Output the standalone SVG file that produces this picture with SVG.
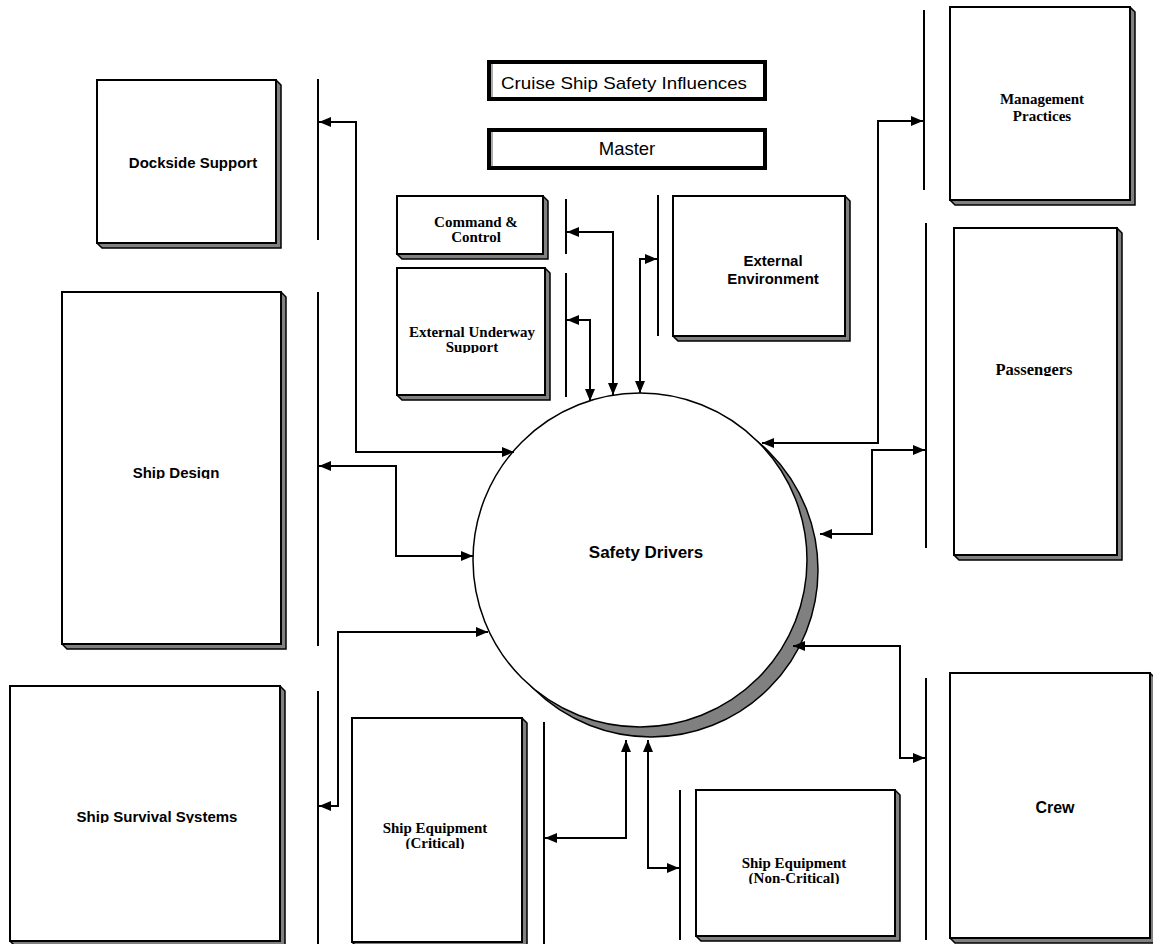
<svg xmlns="http://www.w3.org/2000/svg" width="1153" height="944" viewBox="0 0 1153 944">
<style>
.box{fill:#fff;stroke:#000;stroke-width:2}
.sh{fill:#808080;stroke:#000;stroke-width:1.5}
.bar{stroke:#000;stroke-width:2;fill:none}
.conn{fill:none;stroke:#000;stroke-width:2;marker-start:url(#ah);marker-end:url(#ah)}
.title{fill:#fff;stroke:#000;stroke-width:4}
.sans{font-family:"Liberation Sans",Arial,sans-serif;font-weight:bold;font-size:15px;text-anchor:middle;fill:#000}
.serif{font-family:"Liberation Serif","Times New Roman",serif;font-weight:bold;font-size:15px;text-anchor:middle;fill:#000}
.reg{font-family:"Liberation Sans",Arial,sans-serif;font-size:17px;text-anchor:middle;fill:#000}
</style>
<defs>
<marker id="ah" viewBox="0 0 12 10" refX="12" refY="5" markerWidth="12" markerHeight="10" markerUnits="userSpaceOnUse" orient="auto-start-reverse">
<path d="M0,0 L12,5 L0,10 Z" fill="#000"/>
</marker>
<clipPath id="cSD"><rect x="0" y="0" width="1153" height="479"/></clipPath>
<clipPath id="cSS"><rect x="0" y="0" width="1153" height="823"/></clipPath>
<clipPath id="cEU"><rect x="0" y="0" width="1153" height="353"/></clipPath>
<clipPath id="cPA"><rect x="0" y="0" width="1153" height="376"/></clipPath>
<clipPath id="cSC"><rect x="0" y="0" width="1153" height="849"/></clipPath>
<clipPath id="cSN"><rect x="0" y="0" width="1153" height="884"/></clipPath>
</defs>
<rect width="1153" height="944" fill="#fff"/>

<g id="title">
<rect class="title" x="489" y="62" width="276" height="37"/>
<line x1="492" y1="64" x2="492" y2="97" stroke="#909090" stroke-width="1.5"/>
<text class="reg" x="624" y="89" textLength="246" lengthAdjust="spacingAndGlyphs">Cruise Ship Safety Influences</text>
</g>
<g id="master">
<rect class="title" x="489" y="130" width="276" height="38"/>
<line x1="492" y1="132" x2="492" y2="166" stroke="#909090" stroke-width="1.5"/>
<text class="reg" x="627" y="155" style="font-size:18.5px">Master</text>
</g>

<g id="dockside">
<polygon class="sh" points="276,80 281,85 281,248 102,248 97,243"/>
<rect class="box" x="97" y="80" width="179" height="163"/>
<text class="sans" x="193" y="168">Dockside Support</text>
</g>
<g id="shipdesign">
<polygon class="sh" points="281,292 286,297 286,649 67,649 62,644"/>
<rect class="box" x="62" y="292" width="219" height="352"/>
<text class="sans" x="176" y="478" clip-path="url(#cSD)">Ship Design</text>
</g>
<g id="survival">
<polygon class="sh" points="280,686 285,691 285,946 15,946 10,941"/>
<rect class="box" x="10" y="686" width="270" height="255"/>
<text class="sans" x="157" y="822" clip-path="url(#cSS)">Ship Survival Systems</text>
</g>
<g id="command">
<polygon class="sh" points="543,196 548,201 548,259 402,259 397,254"/>
<rect class="box" x="397" y="196" width="146" height="58"/>
<text class="serif" x="476" y="227">Command &amp;</text>
<text class="serif" x="476" y="242">Control</text>
</g>
<g id="underway">
<polygon class="sh" points="545,268 550,273 550,400 402,400 397,395"/>
<rect class="box" x="397" y="268" width="148" height="127"/>
<g clip-path="url(#cEU)">
<text class="serif" x="472" y="337">External Underway</text>
<text class="serif" x="472" y="352">Support</text>
</g>
</g>
<g id="environment">
<polygon class="sh" points="845,196 850,201 850,341 678,341 673,336"/>
<rect class="box" x="673" y="196" width="172" height="140"/>
<text class="sans" x="773" y="266">External</text>
<text class="sans" x="773" y="284">Environment</text>
</g>
<g id="management">
<polygon class="sh" points="1130,7 1135,12 1135,205 955,205 950,200"/>
<rect class="box" x="950" y="7" width="180" height="193"/>
<text class="serif" x="1042" y="104">Management</text>
<text class="serif" x="1042" y="121">Practices</text>
</g>
<g id="passengers">
<polygon class="sh" points="1117,228 1122,233 1122,560 959,560 954,555"/>
<rect class="box" x="954" y="228" width="163" height="327"/>
<text class="serif" x="1034" y="375" clip-path="url(#cPA)" style="font-size:16.5px">Passengers</text>
</g>
<g id="crew">
<polygon class="sh" points="1150,673 1155,678 1155,943 955,943 950,938"/>
<rect class="box" x="950" y="673" width="200" height="265"/>
<text class="sans" x="1055" y="813" style="font-size:16px">Crew</text>
</g>
<g id="noncritical">
<polygon class="sh" points="895,790 900,795 900,941 701,941 696,936"/>
<rect class="box" x="696" y="790" width="199" height="146"/>
<g clip-path="url(#cSN)">
<text class="serif" x="794" y="868">Ship Equipment</text>
<text class="serif" x="794" y="883">(Non-Critical)</text>
</g>
</g>
<g id="critical">
<polygon class="sh" points="522,718 527,723 527,947 357,947 352,942"/>
<rect class="box" x="352" y="718" width="170" height="224"/>
<g clip-path="url(#cSC)">
<text class="serif" x="435" y="833">Ship Equipment</text>
<text class="serif" x="435" y="848">(Critical)</text>
</g>
</g>

<g id="safety">
<circle cx="651" cy="570" r="167" fill="#808080" stroke="#000" stroke-width="1.5"/>
<circle cx="640" cy="560" r="167" fill="#fff" stroke="#000" stroke-width="1.5"/>
<text class="sans" x="646" y="558" style="font-size:17px">Safety Drivers</text>
</g>

<g id="bars">
<line class="bar" x1="318" y1="79" x2="318" y2="240"/>
<line class="bar" x1="318" y1="292" x2="318" y2="646"/>
<line class="bar" x1="318" y1="691" x2="318" y2="944"/>
<line class="bar" x1="566" y1="199" x2="566" y2="254"/>
<line class="bar" x1="566" y1="273" x2="566" y2="397"/>
<line class="bar" x1="658" y1="195" x2="658" y2="336"/>
<line class="bar" x1="924" y1="10" x2="924" y2="190"/>
<line class="bar" x1="926" y1="223" x2="926" y2="548"/>
<line class="bar" x1="926" y1="678" x2="926" y2="940"/>
<line class="bar" x1="680" y1="790" x2="680" y2="940"/>
<line class="bar" x1="544" y1="722" x2="544" y2="944"/>
</g>

<g id="connectors">
<path class="conn" d="M319,122 H356 V452 H514"/>
<path class="conn" d="M319,466 H396 V556 H473"/>
<path class="conn" d="M319,806 H338 V632 H488"/>
<path class="conn" d="M545,838 H626 V740"/>
<path class="conn" d="M648,740 V868 H679"/>
<path class="conn" d="M793,646 H900 V758 H925"/>
<path class="conn" d="M820,534 H872 V450 H925"/>
<path class="conn" d="M762,443 H878 V121 H923"/>
<path class="conn" d="M657,259 H640 V393"/>
<path class="conn" d="M567,232 H613 V395"/>
<path class="conn" d="M567,320 H590 V401"/>
</g>
</svg>
